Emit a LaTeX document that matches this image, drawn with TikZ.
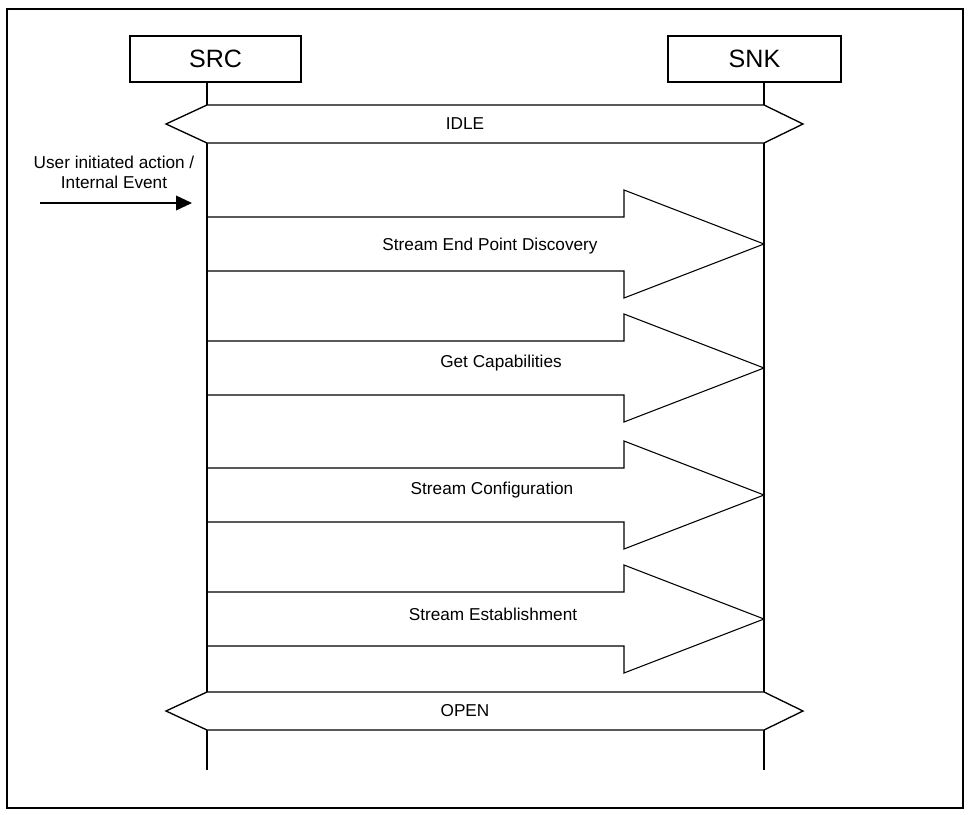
\documentclass[tikz,border=0pt]{standalone}
\usepackage{fontspec}
\setmainfont{Liberation Sans}
\usetikzlibrary{positioning, arrows.meta}

\begin{document}
\begin{tikzpicture}[x=0.75pt, y=-0.75pt,
        entity/.style = {draw, line width=1.4pt, inner sep=0pt,
                        minimum height=34.5pt, font=\fontsize{18.8}{20}\selectfont},
        life/.style = {line width=1.4pt},
        msg/.style = {draw, fill=white, line width=0.8pt, line join=miter},
        lbl/.style = {font=\fontsize{12.9}{15}\selectfont, inner sep=0pt, align=center}]
        \useasboundingbox (0,0) rectangle (971,814);
        \draw[line width=1.5pt] (7,9) rectangle (963,808);

        % entities
        \node[entity, minimum width=128.25pt] (src) at (215.5,59) {SRC};
        \node[entity, minimum width=129.75pt] (snk) at (754.5,59) {SNK};

        % lifelines
        \coordinate (srctop) at (207,82);
        \coordinate (srcend) at (207,770);
        \coordinate (snktop) at (764,82);
        \coordinate (snkend) at (764,770);
        \draw[life] (srctop) -- (srcend);
        \draw[life] (snktop) -- (snkend);

        % procedures
        \foreach \y/\lx/\ly/\txt [count=\i] in {244/490/246/Stream End Point Discovery,
                368/501/363/Get Capabilities,
                495/492/490/Stream Configuration,
                619/493/614/Stream Establishment} {
            \draw[msg] (207,\y-27) -- (624,\y-27) -- (624,\y-54) -- (764,\y)
                -- (624,\y+54) -- (624,\y+27) -- (207,\y+27);
            \node[lbl] (proc\i) at (\lx,\ly) {\txt};
        }
        \draw[life] (srctop) -- (srcend);

        % states
        \foreach \y/\txt in {124/IDLE, 711/OPEN} {
            \draw[msg, line width=1pt] (166,\y) -- (207,\y-19) -- (764,\y-19)
                -- (803,\y) -- (764,\y+19) -- (207,\y+19) -- cycle;
            \node[lbl] (\txt) at (465,\y) {\txt};
        }

        % trigger
        \node[lbl] (event) at (114,172) {User initiated action /\\Internal Event};
        \coordinate (evstart) at (40,203);
        \coordinate (evend) at (192,203);
        \draw[line width=1.2pt, -{Triangle[length=12pt, width=11pt]}] (evstart) -- (evend);
    \end{tikzpicture}
\end{document}
